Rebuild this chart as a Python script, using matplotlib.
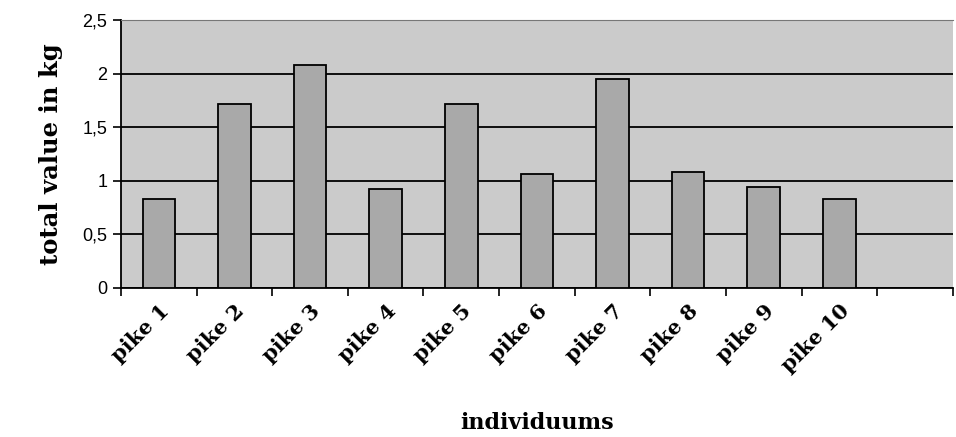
import matplotlib
matplotlib.use("Agg")
import matplotlib.pyplot as plt
import numpy as np

# data
names = ['pike 1', 'pike 2', 'pike 3', 'pike 4', 'pike 5',
         'pike 6', 'pike 7', 'pike 8', 'pike 9', 'pike 10']
values = [0.83, 1.72, 2.08, 0.92, 1.72, 1.06, 1.95, 1.08, 0.94, 0.83]
yticks = [0, 0.5, 1, 1.5, 2, 2.5]
ytick_labels = ['0', '0,5', '1', '1,5', '2', '2,5']

fig = plt.figure(figsize=(9.56, 4.37), dpi=100)
ax = fig.add_axes([0.1266, 0.341, 0.870, 0.613])
ax.set_facecolor('#cbcbcb')

x = np.arange(len(names))
ax.bar(x, values, width=0.43, color='#a9a9a9', edgecolor='black',
       linewidth=1.3, zorder=3)

ax.set_xlim(-0.5, 10.5)
ax.set_ylim(0, 2.5)
ax.set_yticks(yticks)
ax.set_yticklabels(ytick_labels, family='Liberation Sans', fontsize=13)
ax.yaxis.grid(True, color='black', linewidth=1.3, zorder=1)
ax.set_axisbelow(True)

ax.set_xticks(x)
ax.set_xticklabels(names, rotation=45, ha='right', rotation_mode='anchor',
                   family='DejaVu Serif', fontweight='bold', fontsize=15)
ax.set_xticks(np.arange(-0.5, 11, 1), minor=True)
ax.tick_params(axis='x', which='major', length=0, pad=9)
ax.tick_params(axis='x', which='minor', length=6, width=1.2, direction='out')
ax.tick_params(axis='y', length=6, width=1.2, direction='out', pad=4)

ax.spines['left'].set_linewidth(1.3)
ax.spines['bottom'].set_linewidth(1.3)
ax.spines['top'].set_color('#777777')
ax.spines['right'].set_visible(False)

ax.set_xlabel('individuums', family='DejaVu Serif', fontweight='bold',
              fontsize=16, labelpad=26)
ax.set_ylabel('total value in kg', family='DejaVu Serif', fontweight='bold',
              fontsize=17.5, labelpad=14)

fig.savefig('out.png', dpi=100)
